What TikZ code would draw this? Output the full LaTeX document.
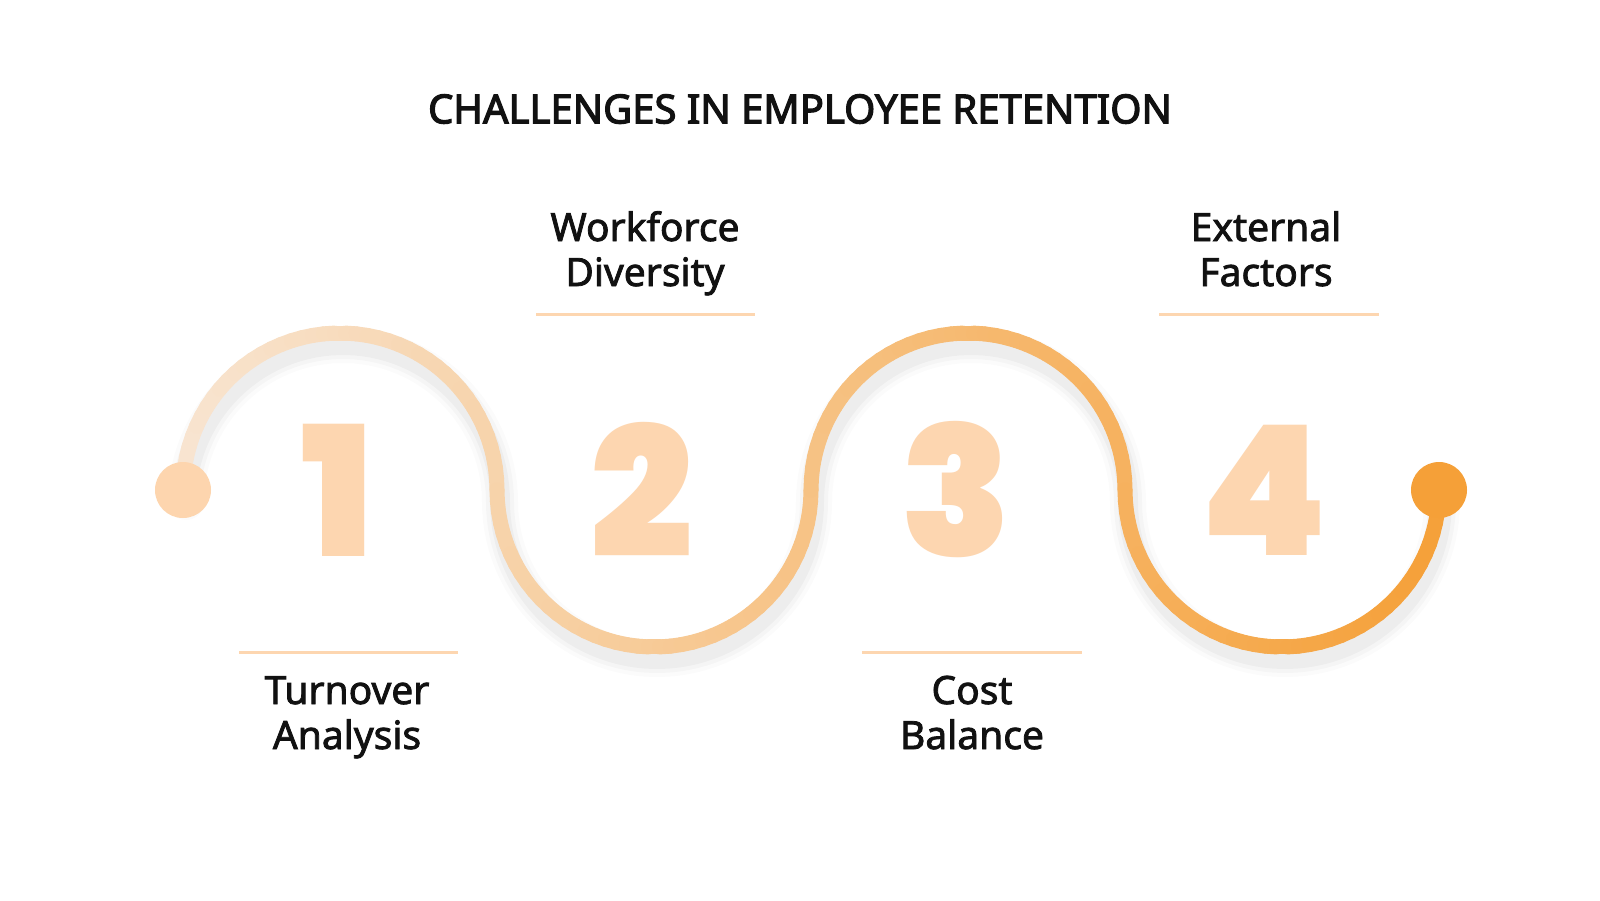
\documentclass[tikz,border=0pt]{standalone}
\usepackage{fontspec}
\setmainfont{Noto Sans}
\newfontfamily\labfont{Noto Sans}[FakeBold=2]
\newfontfamily\titlefont{Noto Sans}[FakeBold=3]
\newfontfamily\numfont{Poppins Black}
\definecolor{cStart}{HTML}{F8E4D0}
\definecolor{cEnd}{HTML}{F5A038}
\definecolor{peach}{HTML}{FDD6B0}
\definecolor{dotLc}{HTML}{FDD5AE}
\definecolor{ink}{HTML}{111111}
\tikzset{
  arcseg/.style={line width=15pt, line cap=round},
  sep/.style={draw=peach, line width=3pt},
  lab/.style={font=\labfont\fontsize{39}{45}\selectfont, text=ink, align=center, inner sep=0pt, anchor=base},
  bignum/.style={font=\numfont\fontsize{181}{181}\selectfont, text=peach, inner sep=0pt},
  shad/.style={draw=black, line cap=round, line join=round},
}
\begin{document}
\begin{tikzpicture}[x=1pt, y=-1pt]
\useasboundingbox (0,0) rectangle (1600,900);
\fill[white] (0,0) rectangle (1600,900);
% title
\node[font=\titlefont\fontsize{40}{48}\selectfont, text=ink, inner sep=0pt] (title) at (800,109) {CHALLENGES IN EMPLOYEE RETENTION};
% big numbers
\node[bignum] (n1) at (338,490) {1};
\node[bignum] (n2) at (642,490) {2};
\node[bignum] (n3) at (956,490) {3};
\node[bignum] (n4) at (1264,490) {4};
% shadow
\foreach \w/\o in {36/0.015, 28/0.022, 20/0.03}{
\draw[shad, line width=\w pt, opacity=\o, shift={(3,12)}]
  plot[domain=0:180, samples=60, variable=\t] ({340-157*cos(\t)},{490-157*sin(\t)})
  -- plot[domain=0:180, samples=60, variable=\t] ({654-157*cos(\t)},{490+157*sin(\t)})
  -- plot[domain=0:180, samples=60, variable=\t] ({968-157*cos(\t)},{490-157*sin(\t)})
  -- plot[domain=0:180, samples=60, variable=\t] ({1282-157*cos(\t)},{490+157*sin(\t)});
}
% gradient wave
\foreach \k in {0,1,2,3}{
  \foreach \t in {0,4,...,176}{
    \pgfmathsetmacro\cx{340+314*\k}
    \pgfmathsetmacro\sg{2*mod(\k,2)-1}
    \pgfmathsetmacro\xa{\cx-157*cos(\t)}
    \pgfmathsetmacro\ya{490+\sg*157*sin(\t)}
    \pgfmathsetmacro\xb{\cx-157*cos(\t+4)}
    \pgfmathsetmacro\yb{490+\sg*157*sin(\t+4)}
    \pgfmathtruncatemacro\pc{((\xa+\xb)/2-183)/1256*100}
    \draw[arcseg, draw=cEnd!\pc!cStart] (\xa,\ya) -- (\xb,\yb);
  }
}
% end dots
\node[circle, fill=dotLc, minimum size=56pt, inner sep=0pt] (dotL) at (183,490) {};
\node[circle, fill=cEnd, minimum size=56pt, inner sep=0pt] (dotR) at (1439,490) {};
% separators
\coordinate (s1a) at (239,652); \coordinate (s1b) at (458,652);
\coordinate (s2a) at (536,314); \coordinate (s2b) at (755,314);
\coordinate (s3a) at (862,652); \coordinate (s3b) at (1082,652);
\coordinate (s4a) at (1159,314); \coordinate (s4b) at (1379,314);
\draw[sep] (s1a) -- (s1b);
\draw[sep] (s2a) -- (s2b);
\draw[sep] (s3a) -- (s3b);
\draw[sep] (s4a) -- (s4b);
% labels (base = baseline of last line)
\node[lab] (l1) at (347,749) {Turnover\\Analysis};
\node[lab] (l2) at (645,286) {Workforce\\Diversity};
\node[lab] (l3) at (972,749) {Cost\\Balance};
\node[lab] (l4) at (1266,286) {External\\Factors};
\end{tikzpicture}
\end{document}
